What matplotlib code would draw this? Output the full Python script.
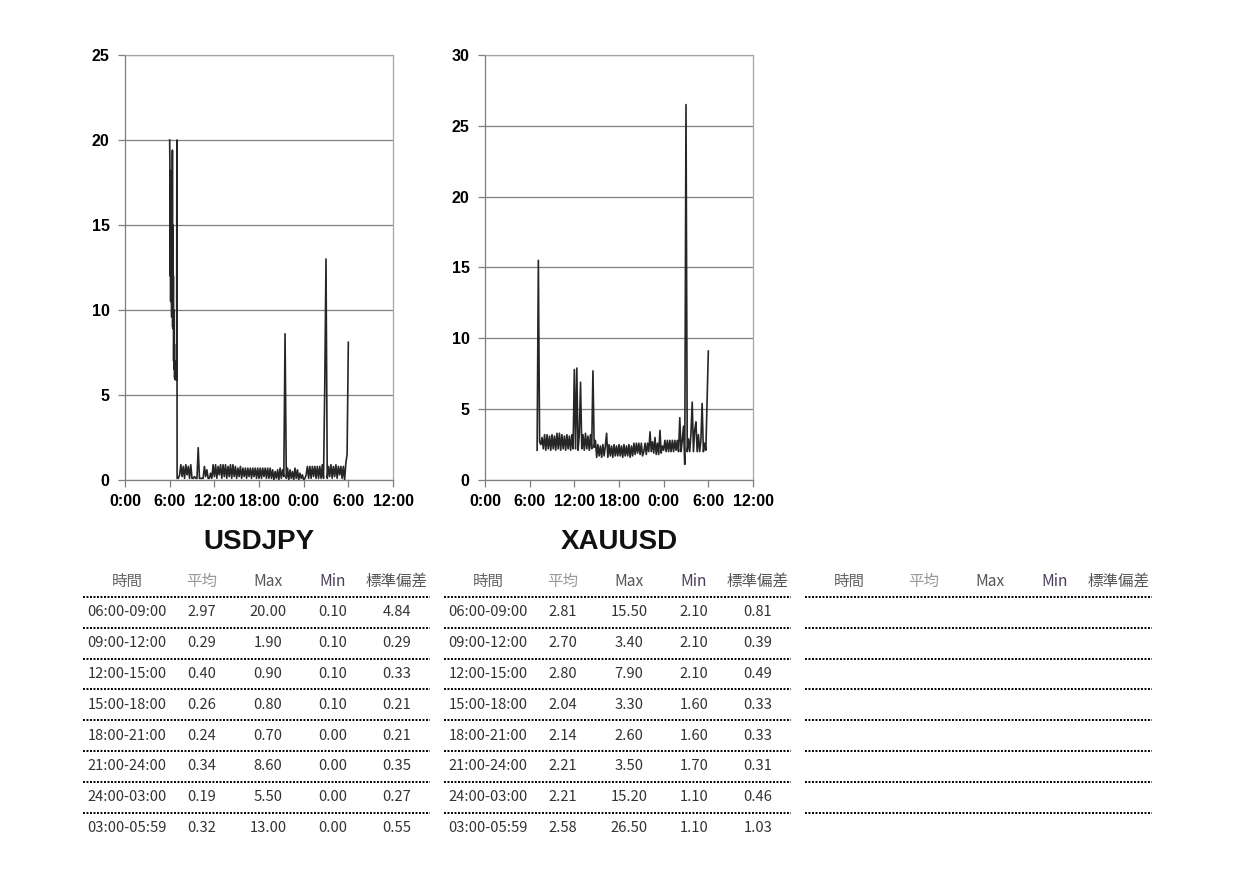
import numpy as np
import matplotlib.pyplot as plt

plt.rcParams['font.family'] = ['Liberation Sans', 'DejaVu Sans']

W, H = 1249, 883

### chart data: spread ###
hour_ticks = [0, 6, 12, 18, 24, 30, 36]
hour_labels = ['0:00', '6:00', '12:00', '18:00', '0:00', '6:00', '12:00']

# USDJPY first hour after open, one value every 2 minutes (6:00-6:58)
jpy_open_start = 6.0
jpy_open_spread = [
    20.0, 18.5, 12.0, 18.2, 10.5, 17.5, 11.0, 16.0, 9.6, 17.0,
    10.0, 19.4, 9.0, 15.0, 8.9, 12.0, 7.0, 10.0, 6.5, 8.0,
    6.0, 7.0, 5.9, 6.5, 6.0, 5.9, 6.2, 6.0, 5.9, 20.0,
]

# one value every 10 minutes
jpy_start = 7.0
jpy_spread = [
    0.1, 0.1, 0.3, 0.9, 0.2, 0.8,         # 7:00
    0.1, 0.9, 0.3, 0.8, 0.1, 0.9,         # 8:00
    0.1, 0.1, 0.2, 0.1, 0.1, 1.9,         # 9:00
    0.1, 0.1, 0.1, 0.1, 0.8, 0.2,         # 10:00
    0.6, 0.1, 0.1, 0.4, 0.1, 0.9,         # 11:00
    0.2, 0.9, 0.1, 0.8, 0.3, 0.9,         # 12:00
    0.1, 0.9, 0.2, 0.9, 0.1, 0.8,         # 13:00
    0.2, 0.9, 0.1, 0.9, 0.2, 0.8,         # 14:00
    0.1, 0.7, 0.2, 0.8, 0.1, 0.7,         # 15:00
    0.2, 0.7, 0.1, 0.7, 0.2, 0.7,         # 16:00
    0.1, 0.7, 0.2, 0.7, 0.1, 0.7,         # 17:00
    0.1, 0.7, 0.1, 0.7, 0.2, 0.7,         # 18:00
    0.1, 0.7, 0.1, 0.7, 0.1, 0.6,         # 19:00
    0.0, 0.5, 0.1, 0.6, 0.0, 0.7,         # 20:00
    0.1, 0.6, 0.2, 8.6, 0.1, 0.7,         # 21:00
    0.0, 0.6, 0.1, 0.5, 0.0, 0.7,         # 22:00
    0.1, 0.6, 0.0, 0.4, 0.1, 0.3,         # 23:00
    0.0, 0.1, 0.3, 0.8, 0.1, 0.8,         # 0:00
    0.1, 0.8, 0.2, 0.8, 0.1, 0.8,         # 1:00
    0.1, 0.8, 0.1, 0.9, 0.1, 5.5,         # 2:00
    13.0, 0.1, 0.8, 0.2, 0.9, 0.1,        # 3:00
    0.8, 0.2, 0.9, 0.1, 0.8, 0.3,         # 4:00
    0.8, 0.1, 0.8, 0.0, 1.0, 1.5,         # 5:00
    8.1,                                  # 6:00
]

xau_start = 7.0
xau_spread = [
    2.1, 15.5, 2.7, 2.5, 3.0, 2.2,        # 7:00
    3.2, 2.1, 3.2, 2.2, 3.1, 2.1,         # 8:00
    3.2, 2.2, 3.1, 2.1, 3.3, 2.2,         # 9:00
    3.3, 2.1, 3.2, 2.2, 3.1, 2.1,         # 10:00
    3.2, 2.2, 3.1, 2.1, 3.2, 2.2,         # 11:00
    7.8, 2.2, 7.9, 2.1, 3.2, 6.9,         # 12:00
    2.2, 3.2, 2.1, 3.3, 2.2, 3.1,         # 13:00
    2.1, 3.2, 2.2, 7.7, 2.3, 2.8,         # 14:00
    1.6, 2.5, 1.7, 2.4, 1.6, 2.5,         # 15:00
    1.7, 2.4, 3.3, 1.6, 2.5, 1.7,         # 16:00
    2.4, 1.6, 2.5, 1.7, 2.4, 1.7,         # 17:00
    2.5, 1.7, 2.4, 1.6, 2.5, 1.7,         # 18:00
    2.4, 1.7, 2.5, 1.6, 2.4, 1.7,         # 19:00
    2.6, 1.8, 2.6, 1.9, 2.6, 1.8,         # 20:00
    2.6, 1.7, 2.0, 2.6, 1.8, 2.6,         # 21:00
    2.0, 3.4, 2.0, 2.7, 1.9, 3.0,         # 22:00
    1.8, 2.6, 1.8, 3.5, 1.9, 2.4,         # 23:00
    2.1, 2.8, 2.0, 2.8, 2.0, 2.8,         # 0:00
    2.0, 2.8, 2.0, 2.8, 2.1, 2.8,         # 1:00
    2.0, 4.4, 2.0, 2.8, 3.8, 1.1,         # 2:00
    26.5, 2.0, 2.9, 2.0, 3.3, 5.5,        # 3:00
    2.0, 3.5, 4.1, 2.0, 3.2, 2.0,         # 4:00
    2.8, 5.4, 2.0, 2.6, 2.1, 5.5,         # 5:00
    9.1,                                  # 6:00
]

### table data ###
headers = ['時間', '平均', 'Max', 'Min', '標準偏差']
header_colors = ['#666666', '#999999', '#555555', '#4a3d5a', '#555555']
periods = ['06:00-09:00', '09:00-12:00', '12:00-15:00', '15:00-18:00',
           '18:00-21:00', '21:00-24:00', '24:00-03:00', '03:00-05:59']

jpy_mean = [2.97, 0.29, 0.40, 0.26, 0.24, 0.34, 0.19, 0.32]
jpy_max = [20.00, 1.90, 0.90, 0.80, 0.70, 8.60, 5.50, 13.00]
jpy_min = [0.10, 0.10, 0.10, 0.10, 0.00, 0.00, 0.00, 0.00]
jpy_std = [4.84, 0.29, 0.33, 0.21, 0.21, 0.35, 0.27, 0.55]

xau_mean = [2.81, 2.70, 2.80, 2.04, 2.14, 2.21, 2.21, 2.58]
xau_max = [15.50, 3.40, 7.90, 3.30, 2.60, 3.50, 15.20, 26.50]
xau_min = [2.10, 2.10, 2.10, 1.60, 1.60, 1.70, 1.10, 1.10]
xau_std = [0.81, 0.39, 0.49, 0.33, 0.33, 0.31, 0.46, 1.03]


def spread_chart(left_px, segments, ymax, title):
    ax = fig.add_axes([left_px / W, 1 - 480 / H, 268 / W, 425 / H])
    # segments: (start hour, minutes per value, values)
    t = np.concatenate([s + np.arange(len(v)) * m / 60.0 for s, m, v in segments])
    v = np.concatenate([v for s, m, v in segments])
    ax.plot(t, v, color='#262626', lw=1.2)
    ax.set_xlim(0, 36)
    ax.set_ylim(0, ymax)
    yt = np.arange(0, ymax + 1, 5)
    ax.set_yticks(yt, [str(n) for n in yt], fontweight='bold', fontsize=11.5)
    ax.set_xticks(hour_ticks, hour_labels, fontweight='bold', fontsize=11.5)
    ax.grid(axis='y', color='#7f7f7f', lw=0.9)
    ax.set_axisbelow(True)
    ax.tick_params(axis='y', length=5, width=0.9, color='#7f7f7f', pad=6)
    ax.tick_params(axis='x', length=5, width=0.9, color='#7f7f7f', pad=5)
    for s in ['top', 'right']:
        ax.spines[s].set_color('#a6a6a6')
        ax.spines[s].set_linewidth(0.9)
    for s in ['left', 'bottom']:
        ax.spines[s].set_color('#7f7f7f')
        ax.spines[s].set_linewidth(0.9)
    fig.text((left_px + 134) / W, 1 - 542 / H, title, ha='center', va='center',
             fontsize=20, fontweight='bold', color='#111111')
    return ax


def draw_table(ax, left, cols):
    offs = [44, 119, 185, 250, 314]
    cjk = ['Noto Sans CJK JP', 'DejaVu Sans']
    for k, h in enumerate(headers):
        ax.text(left + offs[k], 581, h, ha='center', va='center', fontsize=11.2,
                color=header_colors[k], family=cjk)
    for i in range(8):
        y = 597 + 30.8 * i
        ax.plot([left, left + 347], [y, y], color='black', lw=1.4,
                ls=(0, (1, 0.8)), solid_capstyle='butt', dash_capstyle='butt')
        if cols is None:
            continue
        row = [periods[i]] + ['%.2f' % c[i] for c in cols]
        for k, s in enumerate(row):
            ax.text(left + offs[k], 612 + 30.9 * i, s, ha='center', va='center',
                    fontsize=10.6, color='#333333', family=cjk)


fig = plt.figure(figsize=(W / 100, H / 100), dpi=100)

spread_chart(125, [(jpy_open_start, 2, jpy_open_spread),
                   (jpy_start, 10, jpy_spread)], 25, 'USDJPY')
spread_chart(485, [(xau_start, 10, xau_spread)], 30, 'XAUUSD')

tab = fig.add_axes([0, 0, 1, 1])
tab.set_xlim(0, W)
tab.set_ylim(H, 0)
tab.axis('off')
draw_table(tab, 83, [jpy_mean, jpy_max, jpy_min, jpy_std])
draw_table(tab, 444, [xau_mean, xau_max, xau_min, xau_std])
draw_table(tab, 805, None)

fig.savefig('out.png', dpi=100)
